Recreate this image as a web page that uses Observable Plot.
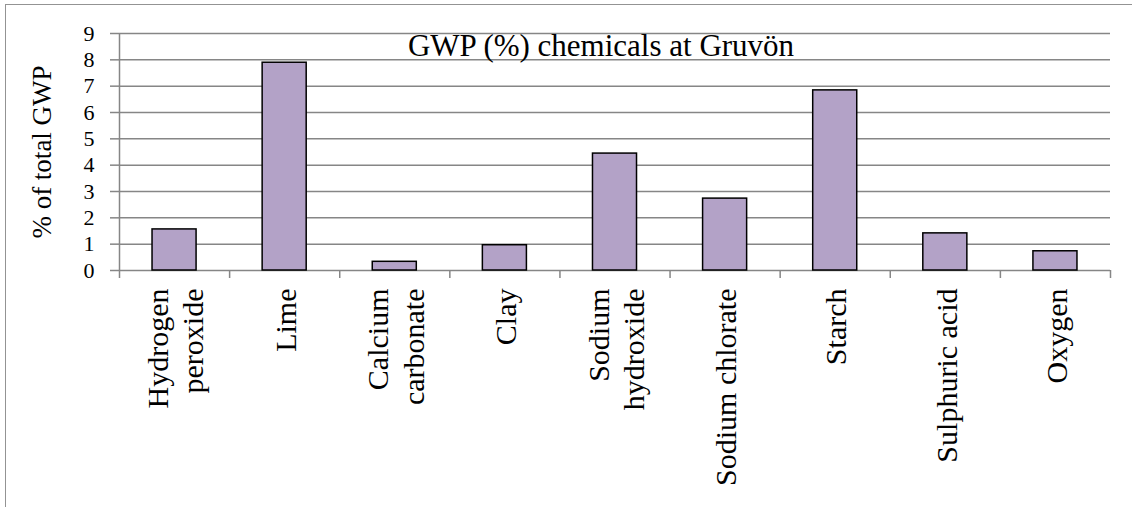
<!DOCTYPE html>
<html><head><meta charset="utf-8">
<script src="https://cdn.jsdelivr.net/npm/d3@7"></script>
<script src="https://cdn.jsdelivr.net/npm/@observablehq/plot@0.6"></script>
<style>
body{margin:0;background:#fff}
#wrap{position:relative;width:1132px;height:507px;overflow:hidden}
#border{position:absolute;left:5px;top:4px;width:2000px;height:2000px;border-left:1.5px solid #939393;border-top:1.5px solid #939393;pointer-events:none}
</style></head><body><div id="wrap"><div id="border"></div></div>
<script>
const categories = ["Hydrogen\nperoxide","Lime","Calcium\ncarbonate","Clay","Sodium\nhydroxide","Sodium chlorate","Starch","Sulphuric acid","Oxygen"];
const values = [1.56,7.89,0.33,0.96,4.44,2.73,6.84,1.41,0.73];
const yTicks = [0,1,2,3,4,5,6,7,8,9];
const title = "GWP (%) chemicals at Gruvön";
const yLabel = "% of total GWP";

const data = categories.map((c,i)=>({c, i, v: values[i]}));
const boundaries = d3.range(categories.length + 1);
const grey = "#868686";
const serif = "Liberation Serif";

const chart = Plot.plot({
  width: 1132, height: 507,
  marginLeft: 119, marginRight: 22, marginTop: 33, marginBottom: 237,
  style: {fontFamily: serif, background: "transparent", color: "#000", overflow: "visible"},
  x: {type: "linear", domain: [0, categories.length], axis: null},
  y: {domain: [0, 9], axis: null},
  marks: [
    Plot.ruleY(yTicks, {stroke: grey, strokeWidth: 1.5}),
    Plot.ruleX([0], {stroke: grey, strokeWidth: 1.5}),
    Plot.axisX(boundaries, {tickSize: 8, tickFormat: () => "", stroke: grey, strokeWidth: 1.5, label: null}),
    Plot.axisY(yTicks, {tickSize: 9, tickPadding: 16, fontSize: 22, fontFamily: serif, stroke: grey, strokeWidth: 1.5, label: null, fill: "#000"}),
    Plot.rectY(data, {x1: d => d.i + 0.3, x2: d => d.i + 0.7, y: "v", fill: "#b3a2c7", stroke: "#000", strokeWidth: 1.5}),
    Plot.text(data, {x: d => d.i + 0.5, text: "c", frameAnchor: "bottom", rotate: -90, textAnchor: "end", lineAnchor: "middle", dy: 18, fontSize: 30, fontFamily: serif, lineHeight: 1.17, fill: "#000"}),
    Plot.text([title], {frameAnchor: "top", lineAnchor: "top", fontSize: 31, fontFamily: serif, dx: -14, fill: "#000"}),
    Plot.text([yLabel], {frameAnchor: "left", rotate: -90, textAnchor: "middle", lineAnchor: "middle", dx: -77, fontSize: 27, fontFamily: serif, fill: "#000"})
  ]
});
document.getElementById("wrap").prepend(chart);
</script></body></html>
